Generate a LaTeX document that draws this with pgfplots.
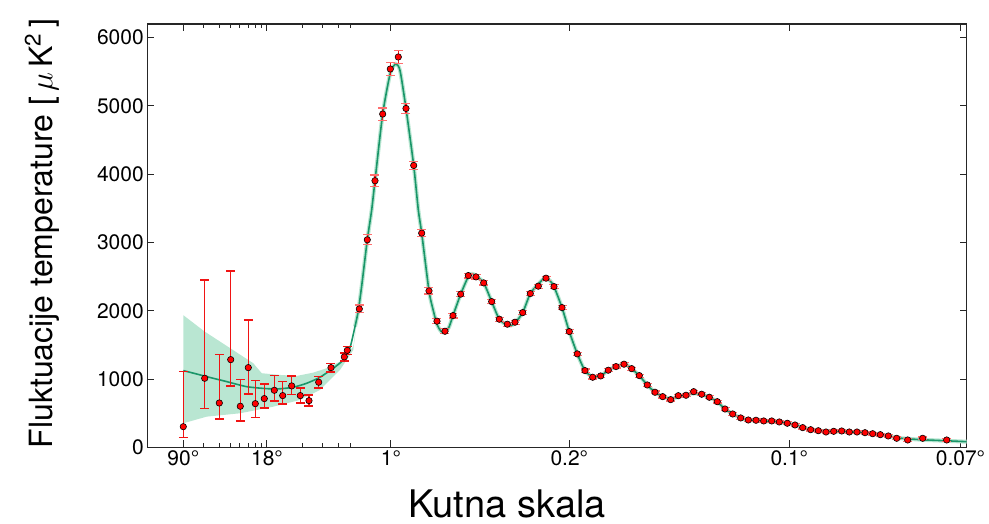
\documentclass[border=0pt]{standalone}
\usepackage{fix-cm}
\usepackage{fontspec}
\setmainfont{TeX Gyre Heros}
\usepackage{pgfplots}
\pgfplotsset{compat=1.18}
\usepackage{pgfplotstable}
\definecolor{curve}{RGB}{26,150,105}
\definecolor{band}{RGB}{185,230,210}
\definecolor{capred}{RGB}{255,110,110}
\definecolor{barred}{RGB}{240,20,20}

\pgfplotstableread{
x y
183.3 302
204.7 1011
219.3 649
230.7 1284
240.3 601
248.3 1167
255.3 639
264.3 713
274.3 835
282.7 757
291.7 899
300.3 757
309 683
318.7 953
331 1167
344.3 1324
347.3 1420
}\lowl

\pgfplotstableread{
x y
183.3 147
183.3 1108
nan nan
204.7 572
204.7 2452
nan nan
219.3 415
219.3 1363
nan nan
230.7 898
230.7 2585
nan nan
240.3 385
240.3 997
nan nan
248.3 781
248.3 1862
nan nan
255.3 440
255.3 982
nan nan
264.3 576
264.3 928
nan nan
274.3 679
274.3 1055
nan nan
282.7 635
282.7 962
nan nan
291.7 771
291.7 1045
nan nan
300.3 649
300.3 869
nan nan
309 605
309 767
nan nan
318.7 869
318.7 1035
nan nan
331 1104
331 1231
nan nan
344.3 1264
344.3 1384
nan nan
347.3 1360
347.3 1480
}\lowbars

\pgfplotstableread{
x y
178.8 147
187.8 147
nan nan
178.8 1108
187.8 1108
nan nan
200.2 572
209.2 572
nan nan
200.2 2452
209.2 2452
nan nan
214.8 415
223.8 415
nan nan
214.8 1363
223.8 1363
nan nan
226.2 898
235.2 898
nan nan
226.2 2585
235.2 2585
nan nan
235.8 385
244.8 385
nan nan
235.8 997
244.8 997
nan nan
243.8 781
252.8 781
nan nan
243.8 1862
252.8 1862
nan nan
250.8 440
259.8 440
nan nan
250.8 982
259.8 982
nan nan
259.8 576
268.8 576
nan nan
259.8 928
268.8 928
nan nan
269.8 679
278.8 679
nan nan
269.8 1055
278.8 1055
nan nan
278.2 635
287.2 635
nan nan
278.2 962
287.2 962
nan nan
287.2 771
296.2 771
nan nan
287.2 1045
296.2 1045
nan nan
295.8 649
304.8 649
nan nan
295.8 869
304.8 869
nan nan
304.5 605
313.5 605
nan nan
304.5 767
313.5 767
nan nan
314.2 869
323.2 869
nan nan
314.2 1035
323.2 1035
nan nan
326.5 1104
335.5 1104
nan nan
326.5 1231
335.5 1231
nan nan
339.8 1264
348.8 1264
nan nan
339.8 1384
348.8 1384
nan nan
342.8 1360
351.8 1360
nan nan
342.8 1480
351.8 1480
}\lowcaps

\pgfplotstableread{
x y e
359.3 2027 56
367.3 3039 73
375 3904 83
382.7 4881 90
390.3 5541 93
398.3 5717 98
406 4963 78
413.7 4128 61
421.7 3137 55
429 2291 45
437 1847 35
445 1700 35
453 1929 35
460.7 2243 35
468.3 2515 35
476 2496 35
483.7 2408 30
491.7 2134 30
499.3 1876 30
507.3 1803 30
515 1832 30
522.7 1973 30
530.3 2252 30
538.3 2360 30
546 2477 30
554 2354 30
562 2046 30
569.3 1695 30
577.3 1368 25
585 1123 25
592.7 1026 25
600.7 1045 25
608.3 1129 22
616 1182 22
624 1217 22
631.7 1152 22
639.3 1050 22
647.3 913 20
655 806 20
662.7 742 20
670.7 698 20
678.3 756 20
686 762 20
693.7 815 20
701.7 777 20
709.3 733 20
717.3 668 20
725 561 20
732.7 488 20
740.7 430 20
748.3 400 20
756 396 20
763.7 386 20
771.7 386 20
779.3 371 20
787.3 352 20
795 327 20
802.7 288 20
810.7 258 20
818.3 243 20
826 224 20
833.7 234 20
841.7 239 20
849.3 224 20
857 224 20
865 214 20
872.7 199 20
880.3 185 20
888.3 166 20
896.7 132 20
907.7 107 20
922.7 132 20
946.7 107 20
}\highl

\pgfplotstableread{
x y
183.3 1123
195 1080
206.7 1035
226.7 962
246.7 888
266.7 859
280 857
293.3 880
306.7 938
320 1026
333.3 1158
343.3 1280
350 1460
355 1768
358.3 2000
362 2400
367.3 3039
371.7 3478
375 3904
382.7 4881
390.3 5480
395.7 5614
400 5520
406 4963
413.7 4128
418.3 3478
421.7 3137
429 2291
433 2020
437 1800
441 1700
445 1680
449 1760
453 1929
460.7 2243
468.3 2500
472 2540
476 2510
483.7 2408
491.7 2134
499.3 1876
507.3 1790
511 1785
515 1820
522.7 1973
530.3 2252
538.3 2390
543 2460
546 2470
550 2440
554 2354
562 2046
569.3 1695
577.3 1368
585 1123
592.7 1030
600.7 1045
608.3 1129
616 1182
622 1210
627 1205
631.7 1150
639.3 1050
647.3 913
655 806
662.7 742
670.7 710
678.3 740
686 770
693.7 790
701.7 775
709.3 733
717.3 668
725 561
732.7 488
740.7 430
748.3 400
756 390
763.7 383
771.7 378
779.3 369
787 352
795 327
802.7 290
810.7 262
818.3 245
826 233
833.7 230
841.7 228
849.3 224
857 220
865 212
872.7 200
880.3 185
888.3 166
896.7 140
907.7 125
922.7 110
946.7 95
966.7 82
}\model

\pgfplotstableread{
x y
183.3 1935
204.7 1695
253.3 1231
261.7 1085
280 1060
296.7 1045
313.3 1094
326.7 1158
340 1255
353.3 1475
358.3 2013
353.3 1426
340 1133
320 840
300 693
273.3 595
240 498
206.7 449
183.3 352
}\bandtab

\begin{document}
\begin{tikzpicture}
\useasboundingbox (-147.3pt,-76.7pt) rectangle (841.7pt,447.3pt);
\begin{axis}[
  scale only axis,
  width=819.4pt, height=423.3pt,
  xmin=147.3, xmax=966.7, ymin=0, ymax=6200,
  axis line style={line width=1.4pt, black!85},
  every tick/.style={black!85, line width=1pt},
  major tick length=7pt, minor tick length=4pt,
  xtick={183.3,267,391,569.3,789.3,960.5},
  xticklabels={90°,18°,1°,0.2°,0.1°,0.07°},
  minor xtick={204,219.3,231,240,248.7,255.7,261.5,302.7,322.3,339,350.7},
  ytick={0,1000,2000,3000,4000,5000,6000},
  /pgf/number format/1000 sep={},
  /pgf/number format/assume math mode=true,
  tick label style={font=\fontsize{21}{25}\selectfont},
  xlabel={Kutna skala},
  xlabel style={font=\fontsize{38}{44}\selectfont, at={(axis description cs:0.439,-0.166)}, anchor=base},
  ylabel={Fluktuacije temperature [\,$\mu$\,K\textsuperscript{2}\,]},
  ylabel style={font=\fontsize{32}{38}\selectfont, at={(axis description cs:-0.1285,0.505)}, anchor=center},
  unbounded coords=jump,
  clip=true,
]
\addplot[fill=band, draw=none] table[x=x,y=y] {\bandtab} -- cycle;
\addplot[band, line width=4pt, smooth, tension=0.4] table[x=x,y=y, restrict x to domain=352:967] {\model};
\addplot[curve, line width=1.6pt, smooth, tension=0.4] table[x=x,y=y] {\model};
\addplot[barred, line width=1.4pt, mark=none] table[x=x,y=y] {\lowbars};
\addplot[barred, line width=1.4pt, mark=none] table[x=x,y=y] {\lowcaps};
\addplot[barred, only marks, mark=none,
  error bars/.cd, y dir=both, y explicit,
  error bar style={draw=barred, line width=1.2pt},
  error mark options={draw=capred, line width=1.2pt, mark size=4.5pt, rotate=90}]
  table[x=x, y=y, y error=e] {\highl};
\addplot[only marks, mark=*, mark size=3.2pt, mark options={fill=red, draw=black, line width=0.6pt}]
  table[x=x, y=y] {\lowl};
\addplot[only marks, mark=*, mark size=3.2pt, mark options={fill=red, draw=black, line width=0.6pt}]
  table[x=x, y=y] {\highl};
\end{axis}
\end{tikzpicture}
\end{document}
